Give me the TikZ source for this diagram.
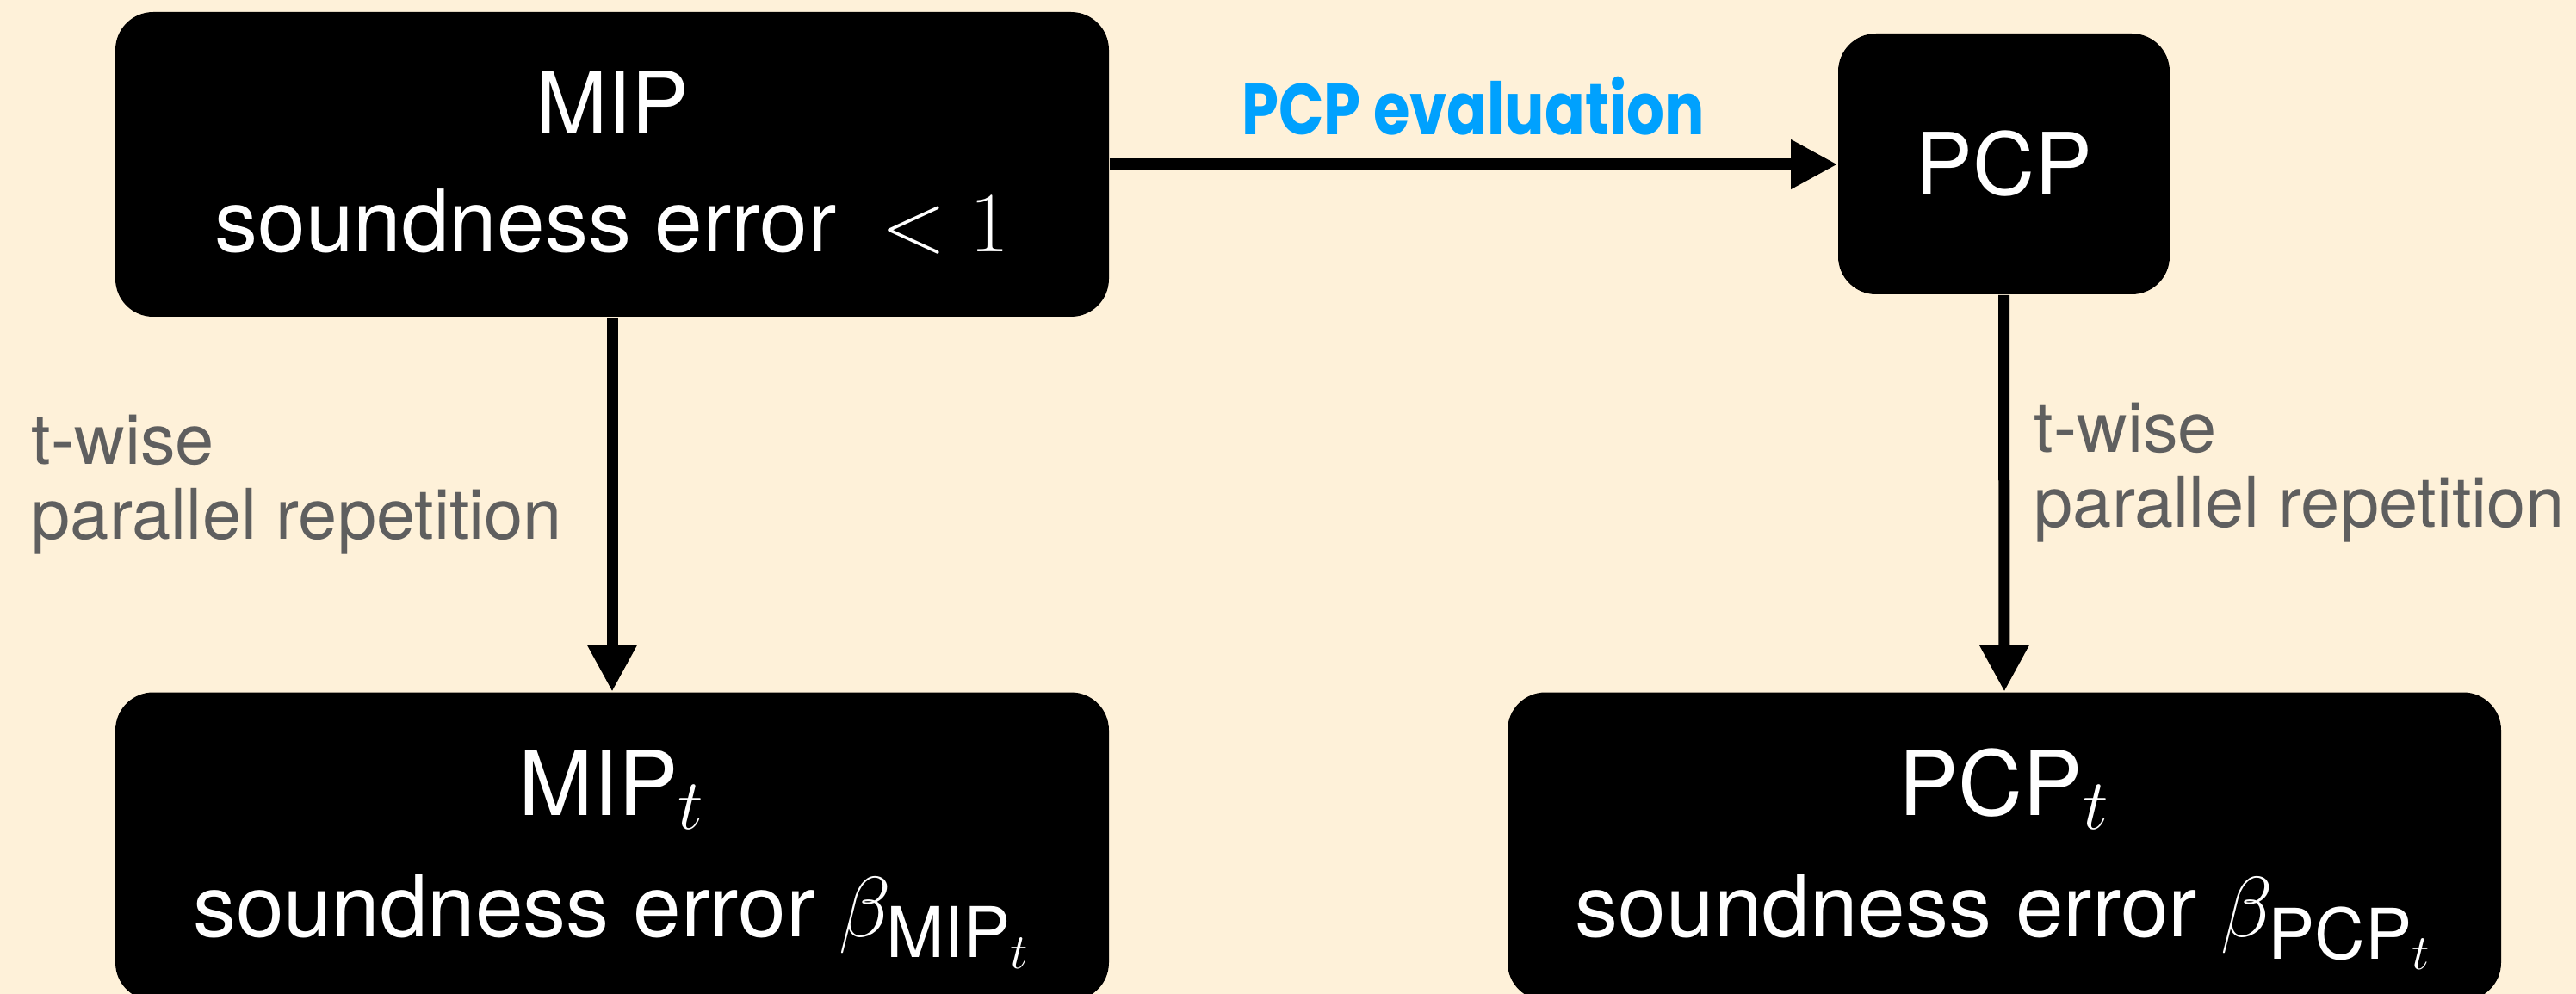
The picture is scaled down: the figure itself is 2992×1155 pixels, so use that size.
\documentclass[tikz,border=0pt]{standalone}
\usepackage[no-math]{fontspec}
\usepackage{amsmath}
\usepackage{graphicx}
\setmainfont{TeX Gyre Heros}
\newfontfamily\evalfont{Poppins}
\usetikzlibrary{arrows.meta}
\definecolor{bgcol}{HTML}{FEF1D9}
\definecolor{labelgray}{HTML}{5F5F5F}
\definecolor{evalblue}{HTML}{00A1FE}
\tikzset{
  box/.style={fill=black, rounded corners=11pt, text=white, align=center, inner sep=0pt,
    minimum width=288.5pt, font=\fontsize{25}{34.25}\selectfont},
  botbox/.style={box, font=\fontsize{25}{35.25}\selectfont,
    text height=52.25pt, text depth=0pt},
  conn/.style={line width=3.25pt, -{Triangle[length=13.5pt,width=13.5pt]}},
  note/.style={text=labelgray, align=left, inner sep=0pt, anchor=base west,
    font=\fontsize{20.3}{21.75}\selectfont},
  evallabel/.style={text=evalblue, inner sep=0pt, anchor=base,
    font=\evalfont\bfseries\fontsize{21}{21}\selectfont}
}
\newcommand{\mymathbig}[1]{{\fontsize{29}{34}\selectfont#1}}
\newcommand{\mytitle}[1]{{\fontsize{26}{35.25}\selectfont #1}}
\begin{document}
\begin{tikzpicture}[x=0.25pt,y=-0.25pt]
\fill[bgcol] (0,0) rectangle (2992,1155);
\useasboundingbox (0,0) rectangle (2992,1155);

\node[box, minimum height=88.5pt, text height=51pt, text depth=0pt] (mip) at (711,191)
  {MIP\\soundness error\hspace{13pt}\mymathbig{$<1$}};
\node[box, minimum width=96.25pt, minimum height=75.75pt, text height=18.25pt, text depth=0pt]
  (pcp) at (2327.5,190.5) {PCP};
\node[botbox, minimum height=89.5pt] (mipt) at (711,983.5)
  {\mytitle{MIP}\mymathbig{$_t$}\\soundness error \mymathbig{$\beta_{\text{MIP}_t}$}};
\node[botbox, minimum height=89.5pt] (pcpt) at (2328,983.5)
  {\mytitle{PCP}\mymathbig{$_t$}\\soundness error \mymathbig{$\beta_{\text{PCP}_t}$}};

\draw[conn] (mip.east) -- (mip.east -| pcp.west);
\draw[conn] (mip.south) -- (mipt.north);
\draw[conn] (pcp.south) -- (pcpt.north);

\node[evallabel] (ev) at (1711,157) {\scalebox{0.82}[1]{PCP evaluation}};
\node[note] (lblL) at (36,627) {t-wise\\parallel repetition};
\node[note] (lblR) at (2362,613) {t-wise\\parallel repetition};
\end{tikzpicture}
\end{document}
